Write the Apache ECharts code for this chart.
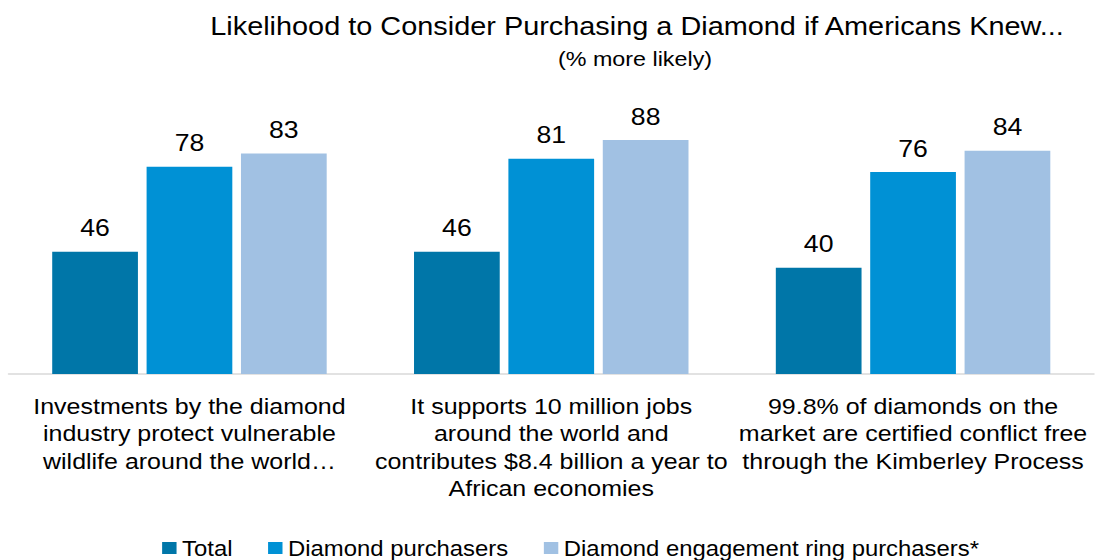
<!DOCTYPE html>
<html>
<head>
<meta charset="utf-8">
<script src="https://cdn.jsdelivr.net/npm/echarts@6/dist/echarts.min.js"></script>
<style>
  html, body { margin: 0; padding: 0; background: #ffffff; overflow: hidden; }
  #wrap { width: 1096px; height: 560px; overflow: hidden; }
  /* the chart is laid out slightly narrower and widened, giving the wide-set Arial look */
  #chart { width: 987px; height: 560px; transform: scaleX(1.1104); transform-origin: 0 0; }
</style>
</head>
<body>
<div id="wrap"><div id="chart"></div></div>
<script>
const categories = [
  'Investments by the diamond\nindustry protect vulnerable\nwildlife around the world\u2026',
  'It supports 10 million jobs\naround the world and\ncontributes $8.4 billion a year to\nAfrican economies',
  '99.8% of diamonds on the\nmarket are certified conflict free\nthrough the Kimberley Process'
];
const seriesNames = ['Total', 'Diamond purchasers', 'Diamond engagement ring purchasers*'];
const totalValues = [46, 46, 40];
const purchaserValues = [78, 81, 76];
const ringPurchaserValues = [83, 88, 84];
const titleText = 'Likelihood to Consider Purchasing a Diamond if Americans Knew...';
const subtitleText = '(% more likely)';

const FONT = '"Liberation Sans", Arial, Helvetica, sans-serif';
const colors = ['#0076A8', '#0091D5', '#A1C1E3'];

const chart = echarts.init(document.getElementById('chart'), null, { renderer: 'svg' });

function barSeries(name, values, color) {
  return {
    name: name,
    type: 'bar',
    data: values,
    barWidth: 77.2,
    barGap: '10.1%',
    itemStyle: { color: color },
    label: {
      show: true,
      position: 'top',
      distance: 12,
      color: '#000000',
      fontFamily: FONT,
      fontSize: 24
    },
    emphasis: { disabled: true },
    animation: false
  };
}

chart.setOption({
  animation: false,
  color: colors,
  graphic: [
    {
      type: 'text',
      x: 573.7,
      y: 13,
      style: {
        text: titleText,
        fill: '#000000',
        font: '26px ' + FONT,
        textAlign: 'center',
        textVerticalAlign: 'top'
      }
    },
    {
      type: 'text',
      x: 571.9,
      y: 48,
      style: {
        text: subtitleText,
        fill: '#000000',
        font: '21px ' + FONT,
        textAlign: 'center',
        textVerticalAlign: 'top'
      }
    }
  ],
  legend: {
    data: seriesNames,
    left: 141,
    top: 531,
    itemWidth: 13,
    itemHeight: 12,
    itemGap: 32,
    icon: 'rect',
    selectedMode: false,
    textStyle: { fontFamily: FONT, fontSize: 21.5, color: '#000000', lineHeight: 24 }
  },
  grid: {
    left: 7.7,
    right: 1.8,
    top: 108.2,
    bottom: 186,
    containLabel: false,
    outerBoundsMode: 'none'
  },
  xAxis: {
    type: 'category',
    data: categories,
    axisLine: { show: true, lineStyle: { color: '#D9D9D9', width: 1.5 } },
    axisTick: { show: false },
    axisLabel: {
      interval: 0,
      margin: 18,
      color: '#000000',
      fontFamily: FONT,
      fontSize: 22.5,
      lineHeight: 27.5,
      align: 'center'
    }
  },
  yAxis: {
    type: 'value',
    min: 0,
    max: 100,
    show: false,
    splitLine: { show: false }
  },
  series: [
    barSeries(seriesNames[0], totalValues, colors[0]),
    barSeries(seriesNames[1], purchaserValues, colors[1]),
    barSeries(seriesNames[2], ringPurchaserValues, colors[2])
  ]
});
</script>
</body>
</html>
